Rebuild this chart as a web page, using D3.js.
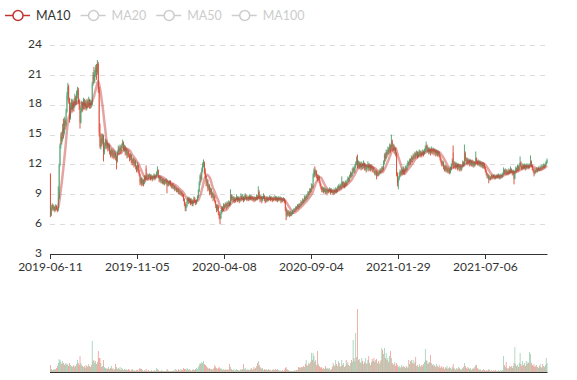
<!DOCTYPE html>
<html>
<head>
<meta charset="utf-8">
<script src="https://cdn.jsdelivr.net/npm/d3@7/dist/d3.min.js"></script>
<style>
  body { margin: 0; background: #fff; }
  svg { display: block; font-family: Lato, "Noto Sans", sans-serif; }
</style>
</head>
<body>
<div id="chart"></div>
<script>
// legend entries (only MA10 is switched on)
const legendNames = ['MA10', 'MA20', 'MA50', 'MA100'];
const legendActive = [true, false, false, false];

// category labels shown on the x axis and the category they sit on
const tickLabels = ['2019-06-11', '2019-11-05', '2020-04-08', '2020-09-04', '2021-01-29', '2021-07-06'];
const tickIndex = [0, 100, 200, 300, 400, 500];
const priceTicks = [3, 6, 9, 12, 15, 18, 21, 24];

// daily candles: [open, close, low, high]
const candles = [
  [11.0,6.9,6.7,11.1],[6.9,7.6,6.8,7.9],[7.6,7.9,7.4,8.1],[7.9,7.5,7.3,8.0],[7.5,7.7,7.4,7.9],
  [7.7,7.4,7.2,7.8],[7.4,7.8,7.3,8.0],[7.8,7.6,7.4,7.9],[7.6,7.4,7.2,7.7],[7.4,8.6,7.3,9.8],
  [8.6,11.9,8.5,12.1],[12.0,13.9,11.8,14.1],[13.9,14.8,13.6,15.2],[14.8,14.5,14.0,15.3],[14.5,15.6,14.3,16.1],
  [15.6,15.2,14.6,16.6],[15.2,16.4,15.0,16.8],[16.4,16.0,15.5,16.6],[16.0,17.3,15.8,17.6],[17.3,18.9,17.2,19.3],
  [18.9,19.8,18.4,20.2],[19.8,18.6,18.1,20.0],[18.6,16.6,16.2,18.7],[16.6,17.9,16.5,18.2],[17.9,18.3,17.5,18.6],
  [18.3,17.6,17.2,18.5],[17.6,18.2,17.4,18.6],[18.2,17.8,17.3,18.4],[17.8,18.7,17.7,19.1],[18.7,18.3,17.9,18.9],
  [18.3,19.0,18.0,19.4],[19.0,19.5,18.6,19.8],[19.5,18.4,18.1,19.7],[18.4,17.9,17.5,18.6],[17.9,16.2,15.6,18.0],
  [16.2,17.4,16.1,17.7],[17.4,18.1,17.2,18.4],[18.1,17.6,17.3,18.3],[17.6,18.4,17.5,18.7],[18.4,17.9,17.5,18.6],
  [17.9,18.2,17.6,18.5],[18.2,17.7,17.4,18.4],[17.7,18.3,17.5,18.6],[18.3,18.0,17.7,18.5],[18.0,18.5,17.8,18.8],
  [18.5,17.9,17.6,18.6],[17.9,18.2,17.6,18.5],[18.2,18.0,17.7,18.4],[18.0,20.1,17.9,20.3],[20.1,21.0,19.9,21.3],
  [21.0,20.4,20.1,21.8],[20.4,21.2,20.2,21.5],[21.2,21.7,20.8,22.0],[21.7,21.3,20.5,22.1],[21.3,22.1,21.0,22.5],
  [22.1,19.5,19.2,22.3],[19.5,15.2,14.8,19.8],[15.2,13.8,13.6,16.1],[13.8,14.6,13.5,15.0],[14.6,14.2,13.8,15.1],
  [14.2,14.9,14.0,15.1],[14.9,13.2,12.3,15.0],[13.2,13.9,13.0,14.2],[13.9,14.3,13.6,14.6],[14.3,13.8,13.5,14.5],
  [13.8,14.1,13.6,14.4],[14.1,13.6,13.3,14.2],[13.6,13.9,13.4,14.1],[13.9,13.3,13.0,14.0],[13.3,13.0,12.7,13.5],
  [13.0,13.4,12.8,13.6],[13.4,12.9,12.6,13.5],[12.9,13.2,12.7,13.5],[13.2,12.7,12.5,13.3],[12.7,13.1,12.6,13.4],
  [13.1,12.8,12.4,13.2],[12.8,12.3,11.5,12.9],[12.3,13.2,12.2,13.4],[13.2,13.6,13.0,13.9],[13.6,13.3,13.0,13.8],
  [13.3,13.7,13.1,14.0],[13.7,13.4,13.1,13.9],[13.4,13.9,13.3,14.1],[13.9,14.2,13.6,14.5],[14.2,13.6,13.4,14.3],
  [13.6,13.8,13.3,14.0],[13.8,13.2,12.9,13.9],[13.2,13.5,13.0,13.7],[13.5,12.9,12.6,13.6],[12.9,13.3,12.7,13.5],
  [13.3,13.0,12.7,13.4],[13.0,12.6,12.3,13.1],[12.6,12.9,12.4,13.1],[12.9,12.5,12.1,13.0],[12.5,12.2,11.9,12.6],
  [12.2,12.5,12.0,12.7],[12.5,12.0,11.7,12.6],[12.0,12.3,11.8,12.5],[12.3,11.8,11.5,12.4],[11.8,11.5,11.2,11.9],
  [11.5,11.9,11.3,12.2],[11.9,11.4,11.1,12.0],[11.4,11.0,10.8,11.5],[11.0,10.2,9.9,11.1],[10.2,10.6,10.0,10.8],
  [10.6,10.0,9.8,10.7],[10.0,10.4,9.9,10.6],[10.4,10.1,9.8,10.5],[10.1,10.7,10.0,10.9],[10.7,10.4,10.2,10.9],
  [11.6,10.8,10.5,11.9],[10.8,10.6,10.4,11.0],[10.6,10.9,10.5,11.1],[10.9,10.7,10.5,11.0],[10.7,10.9,10.6,11.1],
  [10.9,10.6,10.4,11.0],[10.6,10.8,10.5,11.0],[10.8,10.5,10.3,10.9],[10.5,10.7,10.4,10.9],[10.7,10.9,10.6,11.1],
  [10.9,10.6,10.4,11.0],[10.6,10.8,10.5,11.0],[10.8,11.1,10.7,11.3],[11.1,11.4,10.9,11.8],[11.4,10.8,10.6,11.5],
  [10.8,10.5,10.2,10.9],[10.5,10.7,10.3,10.9],[10.7,10.3,10.1,10.8],[10.3,10.5,10.1,10.7],[10.5,10.2,10.0,10.6],
  [10.2,10.4,10.0,10.6],[10.4,10.1,9.9,10.5],[10.1,10.3,10.0,10.5],[10.3,10.4,10.1,10.6],[10.4,9.9,9.1,10.5],
  [9.9,10.2,9.8,10.4],[10.2,10.0,9.8,10.3],[10.0,10.3,9.9,10.4],[10.3,10.0,9.8,10.4],[10.0,9.8,9.6,10.1],
  [9.8,10.0,9.6,10.1],[10.0,9.7,9.5,10.1],[9.7,9.8,9.5,9.9],[9.8,9.5,9.3,9.9],[9.5,9.6,9.4,9.8],
  [9.6,9.4,9.2,9.7],[9.4,9.5,9.2,9.6],[9.5,9.2,9.0,9.6],[9.2,9.3,9.0,9.5],[9.3,9.1,8.9,9.4],
  [9.1,9.2,8.9,9.3],[9.2,9.0,8.8,9.3],[9.0,8.9,8.7,9.1],[8.9,8.5,8.3,9.0],[8.5,8.0,7.8,8.6],
  [8.0,7.6,7.3,8.2],[7.6,7.8,7.3,8.0],[7.8,8.3,7.7,8.5],[8.3,8.6,8.1,8.8],[8.6,8.3,8.0,8.7],
  [8.3,8.5,8.1,8.7],[8.5,8.1,7.9,8.6],[8.1,8.4,8.0,8.6],[8.4,8.0,7.8,8.5],[8.0,8.2,7.8,8.4],
  [8.2,8.6,8.1,8.8],[8.6,8.3,8.1,8.7],[8.3,8.1,7.9,8.4],[8.1,8.4,8.0,8.5],[8.4,8.7,8.3,8.9],
  [8.7,9.3,8.6,9.5],[9.3,10.1,9.2,10.3],[10.1,10.8,9.9,11.0],[10.8,10.5,10.2,11.2],[10.5,11.4,10.4,11.7],
  [11.4,12.0,11.2,12.2],[12.0,12.2,11.7,12.5],[12.2,11.3,11.0,12.3],[11.3,10.8,10.6,11.6],[10.8,10.1,9.8,10.9],
  [10.1,10.4,9.8,10.6],[10.4,9.6,9.3,10.5],[9.6,9.9,9.4,10.1],[9.9,9.2,8.9,10.0],[9.2,9.5,9.0,9.7],
  [9.5,8.9,8.6,9.6],[8.9,9.1,8.7,9.3],[9.1,8.6,8.3,9.2],[8.6,8.8,8.4,9.0],[8.8,8.3,8.1,8.9],
  [8.3,7.9,7.6,8.4],[7.9,7.5,7.2,8.0],[7.5,7.8,7.3,8.0],[7.8,7.2,6.9,7.9],[7.2,6.8,6.5,7.3],
  [6.8,6.6,6.0,7.0],[6.6,7.2,6.5,7.4],[7.2,7.6,7.0,7.8],[7.6,7.4,7.2,7.8],[7.4,7.9,7.3,8.1],
  [7.9,7.7,7.5,8.0],[7.7,8.0,7.6,8.2],[8.0,7.8,7.5,8.1],[7.8,8.1,7.6,8.3],[8.1,7.9,7.7,8.2],
  [7.9,8.2,7.8,8.4],[8.2,8.0,7.8,8.3],[8.0,8.9,7.9,9.5],[8.9,8.5,8.3,9.0],[8.5,8.7,8.4,8.9],
  [8.7,8.4,8.2,8.8],[8.4,8.6,8.3,8.8],[8.6,8.3,8.1,8.7],[8.3,8.5,8.2,8.7],[8.5,8.7,8.4,9.0],
  [8.7,8.4,8.2,8.8],[8.4,8.6,8.3,8.8],[8.6,8.3,8.1,8.7],[8.3,8.6,8.2,8.8],[8.6,8.8,8.5,9.1],
  [8.8,8.5,8.3,8.9],[8.5,8.7,8.4,9.0],[8.7,8.4,8.2,8.8],[8.4,8.6,8.3,8.9],[8.6,8.9,8.5,9.1],
  [8.9,8.6,8.4,9.0],[8.6,8.5,8.3,8.7],[8.5,8.7,8.4,8.9],[8.7,8.5,8.3,8.8],[8.5,8.8,8.4,9.0],
  [8.8,8.6,8.4,8.9],[8.6,8.7,8.4,8.9],[8.7,8.5,8.3,8.8],[8.5,8.6,8.4,8.8],[8.6,8.4,8.2,8.7],
  [8.4,8.6,8.3,8.8],[8.6,8.5,8.3,8.7],[8.5,8.8,8.4,9.0],[8.8,8.6,8.4,8.9],[8.6,9.2,8.5,9.8],
  [9.2,8.8,8.5,9.4],[8.8,8.5,8.2,8.9],[8.5,8.7,8.3,8.9],[8.7,8.4,8.1,8.8],[8.4,8.6,8.3,8.8],
  [8.6,8.8,8.5,9.1],[8.8,8.5,8.3,8.9],[8.5,8.3,8.1,8.6],[8.3,8.6,8.2,8.8],[8.6,8.4,8.2,8.7],
  [8.4,8.6,8.3,8.8],[8.6,8.5,8.3,8.7],[8.5,8.7,8.4,8.9],[8.7,8.5,8.3,8.8],[8.5,8.6,8.4,8.8],
  [8.6,8.4,8.2,8.7],[8.4,8.6,8.3,8.8],[8.6,8.5,8.3,8.7],[8.5,8.7,8.4,8.9],[8.7,8.5,8.3,8.8],
  [8.5,8.6,8.3,8.8],[8.6,8.4,8.2,8.7],[8.4,8.6,8.3,8.8],[8.6,8.5,8.3,8.7],[8.5,8.6,8.4,8.8],
  [8.6,8.3,8.1,8.7],[8.3,8.5,8.2,8.7],[8.5,8.4,8.2,8.6],[8.4,8.5,8.3,8.7],[8.5,8.3,8.1,8.6],
  [8.3,7.6,7.3,8.4],[7.6,6.9,6.4,7.7],[6.9,7.3,6.7,7.5],[7.3,7.0,6.8,7.4],[7.0,7.2,6.8,7.4],
  [7.2,6.9,6.7,7.3],[6.9,7.1,6.8,7.3],[7.1,7.0,6.8,7.2],[7.0,7.2,6.9,7.4],[7.2,7.3,7.0,7.5],
  [7.3,7.5,7.2,7.6],[7.5,7.4,7.2,7.6],[7.4,7.7,7.3,7.8],[7.7,7.6,7.4,7.8],[7.6,7.9,7.5,8.0],
  [7.9,7.7,7.5,8.0],[7.7,8.0,7.6,8.1],[8.0,7.9,7.7,8.1],[7.9,8.2,7.8,8.4],[8.2,8.1,7.9,8.3],
  [8.1,8.4,8.0,8.6],[8.4,8.3,8.1,8.5],[8.3,8.7,8.2,8.9],[8.7,8.5,8.3,8.8],[8.5,8.8,8.4,9.0],
  [8.8,8.7,8.5,9.0],[8.7,9.1,8.6,9.3],[9.1,9.0,8.8,9.3],[9.0,9.4,8.9,9.6],[9.4,9.3,9.1,9.6],
  [9.3,9.8,9.2,10.1],[9.8,9.7,9.5,10.0],[9.7,10.9,9.6,11.1],[10.9,11.4,10.7,11.6],[11.4,11.0,10.7,11.8],
  [11.0,11.3,10.8,11.5],[11.3,10.9,10.6,11.4],[10.9,10.6,10.3,11.0],[10.6,10.8,10.4,11.0],[10.8,10.3,10.1,10.9],
  [10.3,10.0,9.8,10.4],[10.0,9.7,9.5,10.1],[9.7,9.4,9.2,9.8],[9.4,9.6,9.2,9.8],[9.6,9.3,9.1,9.7],
  [9.3,9.5,9.2,9.7],[9.5,9.2,9.0,9.6],[9.2,9.4,9.0,9.6],[9.4,9.2,8.9,9.5],[9.2,9.4,9.1,9.6],
  [9.4,9.3,9.1,9.5],[9.3,9.5,9.2,9.7],[9.5,9.2,9.0,9.6],[9.2,9.4,9.1,9.6],[9.4,9.3,9.1,9.5],
  [9.3,9.1,8.9,9.4],[9.1,9.4,9.0,9.6],[9.4,9.2,9.0,9.5],[9.2,9.5,9.1,9.7],[9.5,9.3,9.1,9.6],
  [9.3,9.6,9.2,9.8],[9.6,9.8,9.4,10.0],[9.8,9.6,9.4,9.9],[9.6,9.9,9.5,10.1],[9.9,9.7,9.5,10.0],
  [9.7,10.2,9.6,10.8],[10.2,9.9,9.7,10.3],[9.9,10.1,9.7,10.3],[10.1,9.8,9.6,10.2],[9.8,10.2,9.7,10.4],
  [10.2,10.0,9.8,10.3],[10.0,10.3,9.9,10.5],[10.3,10.6,10.2,10.8],[10.6,10.4,10.2,10.7],[10.4,10.8,10.3,11.0],
  [10.8,11.1,10.6,11.3],[11.1,10.9,10.7,11.2],[10.9,11.3,10.8,11.6],[11.3,11.6,11.1,11.8],[11.6,11.4,11.1,11.7],
  [11.4,11.8,11.2,12.0],[11.8,12.1,11.6,12.3],[12.1,12.5,11.9,12.8],[12.5,11.9,11.6,13.0],[11.9,12.2,11.7,12.4],
  [12.2,11.8,11.5,12.3],[11.8,12.1,11.6,12.3],[12.1,11.7,11.4,12.2],[11.7,12.0,11.5,12.3],[12.0,11.8,11.5,12.1],
  [11.8,12.1,11.6,12.4],[12.1,11.7,11.4,12.2],[11.7,11.9,11.4,12.1],[11.9,11.5,11.2,12.0],[11.5,11.8,11.3,12.0],
  [11.8,12.0,11.6,12.3],[12.0,11.6,11.3,12.1],[11.6,11.9,11.4,12.1],[11.9,11.6,11.3,12.0],[11.6,11.8,11.4,12.0],
  [11.8,11.5,11.2,11.9],[11.5,11.6,11.3,11.8],[11.6,11.3,11.1,11.7],[11.3,11.1,10.9,11.4],[11.1,11.3,10.9,11.5],
  [11.3,10.9,10.5,11.4],[10.9,11.1,10.8,11.3],[11.1,11.0,10.8,11.2],[11.0,11.2,10.9,11.4],[11.2,11.4,11.0,11.6],
  [11.4,11.3,11.1,11.6],[11.3,11.6,11.2,11.8],[11.6,11.5,11.3,11.8],[11.5,12.2,11.4,12.4],[12.2,12.9,12.0,13.1],
  [12.9,12.6,12.3,13.2],[12.6,13.2,12.5,13.5],[13.2,13.0,12.7,13.4],[13.0,13.5,12.9,13.8],[13.5,13.3,13.0,13.7],
  [13.3,13.8,13.1,14.1],[13.8,13.6,13.2,14.0],[13.6,14.3,13.4,15.0],[14.3,13.7,13.3,14.5],[13.7,13.9,13.4,14.1],
  [13.9,13.4,13.1,14.0],[13.4,13.6,13.0,13.8],[13.6,13.1,12.8,13.7],[13.1,11.0,10.8,13.2],[11.0,10.2,9.8,11.2],
  [10.2,10.6,9.5,10.8],[10.6,10.9,10.4,11.2],[10.9,11.3,10.7,11.5],[11.3,11.0,10.8,11.4],[11.0,11.4,10.9,11.7],
  [11.4,11.2,10.9,11.5],[11.2,11.5,11.0,11.8],[11.5,11.3,11.0,11.6],[11.3,11.7,11.2,11.9],[11.7,11.5,11.3,11.8],
  [11.5,11.9,11.4,12.1],[11.9,12.2,11.7,12.4],[12.2,12.0,11.8,12.3],[12.0,12.4,11.9,12.6],[12.4,12.3,12.0,12.6],
  [12.3,12.7,12.2,12.9],[12.7,12.5,12.2,12.8],[12.5,12.9,12.4,13.1],[12.9,12.7,12.5,13.0],[12.7,13.1,12.6,13.3],
  [13.1,12.9,12.6,13.2],[12.9,13.2,12.8,13.4],[13.2,12.8,12.6,13.3],[12.8,13.1,12.7,13.3],[13.1,13.3,12.9,13.5],
  [13.3,12.9,12.7,13.4],[12.9,13.2,12.8,13.4],[13.2,13.0,12.7,13.3],[13.0,13.3,12.9,13.5],[13.3,13.1,12.8,13.4],
  [13.1,13.4,13.0,13.6],[13.4,13.6,13.2,13.9],[13.6,13.9,13.4,14.3],[13.9,13.4,13.2,14.0],[13.4,13.6,13.2,13.8],
  [13.6,13.3,13.0,13.7],[13.3,13.5,13.1,13.7],[13.5,13.2,12.9,13.6],[13.2,13.5,13.1,13.8],[13.5,13.3,13.0,13.6],
  [13.3,13.5,13.1,13.7],[13.5,13.2,12.9,13.6],[13.2,13.4,13.0,13.6],[13.4,13.1,12.8,13.5],[13.1,13.3,12.9,13.5],
  [13.3,13.0,12.8,13.4],[13.0,13.2,12.8,13.4],[13.2,12.9,12.7,13.3],[12.9,12.6,12.4,13.0],[12.6,12.3,12.1,12.7],
  [12.3,12.0,11.8,12.4],[12.0,12.2,11.8,12.4],[12.2,11.8,11.5,12.3],[11.8,11.5,11.3,11.9],[11.5,11.8,11.3,12.0],
  [11.8,11.4,11.2,11.9],[11.4,11.6,11.2,11.8],[11.6,11.3,11.1,11.7],[11.3,11.5,11.1,11.7],[11.5,11.2,11.0,11.6],
  [11.2,11.6,11.1,11.8],[11.6,11.9,11.4,12.1],[11.9,12.4,11.8,12.6],[13.2,12.2,11.6,13.9],[12.2,11.9,11.6,12.3],
  [11.9,12.1,11.7,12.3],[12.1,11.8,11.5,12.2],[11.8,12.0,11.6,12.2],[12.0,11.7,11.4,12.1],[11.7,11.9,11.5,12.1],
  [11.9,11.6,11.3,12.0],[11.6,11.8,11.4,12.0],[11.8,11.5,11.3,11.9],[11.5,11.8,11.4,12.0],[11.8,12.2,11.7,12.4],
  [12.2,12.0,11.8,12.3],[12.0,13.1,11.9,14.0],[13.1,12.6,12.3,13.3],[12.6,12.3,12.0,12.7],[12.3,12.5,12.0,12.7],
  [12.5,12.2,11.9,12.6],[12.2,12.4,12.0,12.6],[12.4,12.1,11.8,12.5],[12.1,12.3,11.9,12.5],[12.3,12.0,11.8,12.4],
  [12.0,12.2,11.8,12.4],[12.2,11.9,11.7,12.3],[11.9,12.1,11.7,12.3],[12.1,12.0,11.8,12.3],[12.0,12.6,11.9,13.3],
  [12.6,12.3,12.0,12.7],[12.3,12.1,11.9,12.4],[12.1,12.3,11.9,12.5],[12.3,12.0,11.8,12.4],[12.0,12.2,11.8,12.4],
  [12.2,11.9,11.7,12.3],[11.9,12.1,11.7,12.3],[12.1,11.8,11.6,12.2],[11.8,12.0,11.6,12.2],[12.0,11.7,11.5,12.1],
  [11.7,11.4,11.2,11.8],[11.4,11.1,10.9,11.5],[11.1,10.8,10.6,11.2],[10.8,10.9,10.6,11.1],[10.9,10.5,10.1,11.0],
  [10.5,10.7,10.4,10.9],[10.7,10.6,10.4,10.8],[10.6,10.8,10.5,11.0],[10.8,10.7,10.5,10.9],[10.7,10.9,10.6,11.0],
  [10.9,10.7,10.5,11.0],[10.7,10.8,10.5,11.0],[10.8,10.7,10.5,10.9],[10.7,10.9,10.6,11.0],[10.9,10.8,10.6,11.0],
  [10.8,10.9,10.6,11.1],[10.9,10.7,10.5,11.0],[10.7,10.8,10.5,11.0],[10.8,10.9,10.6,11.1],[10.9,10.8,10.6,11.0],
  [10.8,11.0,10.7,11.2],[11.0,11.4,10.9,11.7],[11.4,11.2,11.0,11.5],[11.2,11.4,11.0,11.6],[11.4,11.1,10.9,11.5],
  [11.1,11.3,11.0,11.5],[11.3,11.1,10.9,11.4],[11.1,11.4,11.0,11.6],[11.4,11.2,11.0,11.5],[11.2,11.5,11.1,11.8],
  [11.5,11.3,11.1,11.6],[11.3,11.1,10.9,11.4],[11.1,11.3,10.9,11.5],[11.3,10.6,10.0,11.4],[10.6,11.2,10.5,11.4],
  [11.2,11.6,11.1,11.8],[11.6,11.4,11.2,11.7],[11.4,11.8,11.3,12.0],[11.8,11.5,11.3,11.9],[11.5,11.8,11.4,12.1],
  [11.8,12.2,11.7,12.8],[12.2,11.8,11.6,12.3],[11.8,11.6,11.4,11.9],[11.6,11.9,11.5,12.1],[11.9,11.7,11.5,12.0],
  [11.7,11.9,11.5,12.1],[11.9,11.6,11.4,12.0],[11.6,11.9,11.5,12.1],[11.9,11.7,11.5,12.0],[11.7,11.9,11.6,12.1],
  [11.9,11.7,11.5,12.0],[11.7,11.9,11.6,12.1],[11.9,12.3,11.8,12.9],[12.3,11.9,11.7,12.4],[11.9,11.6,11.4,12.0],
  [11.6,11.4,11.2,11.7],[11.4,11.1,10.8,11.5],[11.1,11.4,11.0,11.6],[11.4,11.3,11.1,11.5],[11.3,11.5,11.2,11.7],
  [11.5,11.4,11.2,11.6],[11.4,11.6,11.3,11.8],[11.6,11.5,11.3,11.7],[11.5,11.7,11.4,11.9],[11.7,11.6,11.4,11.8],
  [11.6,11.8,11.5,12.0],[11.8,11.7,11.5,11.9],[11.7,11.9,11.6,12.1],[11.9,11.8,11.6,12.0],[11.8,12.0,11.7,12.2],
  [12.0,12.2,11.9,12.4],[12.2,12.4,12.1,12.6]
];

// daily volume (arbitrary units)
const volumes = [
  7,3,2,2,3,2,3,4,6,9,13,12,10,8,11,9,7,8,9,7,
  8,6,9,7,6,5,6,7,5,6,8,12,9,7,16,9,7,6,5,6,
  4,7,6,5,8,6,5,7,31,11,12,9,11,8,10,21,14,14,9,5,
  6,12,5,4,3,4,3,5,3,4,6,3,4,2,3,8,5,3,4,3,
  5,2,4,3,2,3,2,3,2,2,3,2,1,2,3,2,1,2,1,2,
  2,1,3,4,3,3,2,1,2,1,3,1,1,2,1,1,2,1,1,1,
  2,1,4,3,2,1,1,1,2,1,1,1,1,1,3,2,1,1,1,1,
  1,1,2,1,3,2,1,3,2,1,3,2,2,4,3,3,2,4,3,2,
  3,2,1,2,3,2,2,3,4,3,5,7,9,8,10,9,11,8,7,6,
  5,4,3,4,3,3,2,3,4,7,5,4,3,4,5,3,4,3,2,3,
  2,3,2,2,3,2,8,5,3,2,2,3,1,2,3,2,2,1,2,3,
  2,3,8,3,4,2,2,3,2,2,3,4,2,3,5,3,4,6,9,11,
  7,5,4,3,4,2,3,2,3,2,2,3,2,2,1,2,3,2,2,3,
  2,3,2,1,2,1,1,2,1,2,4,5,3,2,2,1,1,1,1,1,
  1,2,1,2,2,5,4,5,4,5,5,6,5,8,12,7,6,9,8,10,
  19,12,19,16,10,12,7,21,8,6,5,4,5,3,4,3,6,4,3,4,
  3,4,2,3,5,9,7,6,12,8,6,11,9,5,6,12,7,9,5,6,
  12,8,10,7,6,9,12,10,32,14,11,39,15,63,12,13,10,9,14,11,
  8,10,14,8,9,12,16,9,7,10,13,11,14,10,12,13,9,11,8,10,
  12,24,22,18,24,14,19,12,14,10,16,21,14,9,7,8,10,6,9,7,
  5,6,4,5,7,5,6,5,4,6,5,4,12,8,11,12,9,12,8,10,
  15,6,7,5,8,6,5,7,6,8,10,23,12,11,8,9,10,17,9,7,
  8,6,7,5,8,6,5,7,4,5,6,4,5,3,5,4,6,3,4,5,
  4,3,5,8,4,3,2,4,3,5,4,3,2,3,4,5,9,6,4,3,
  5,4,3,4,2,3,4,3,5,7,7,4,3,2,3,2,1,2,3,2,
  1,2,1,2,3,2,1,2,1,1,2,1,2,1,1,2,1,1,2,1,
  2,16,7,5,10,4,3,4,6,5,6,4,6,9,25,8,6,7,5,9,
  19,8,6,11,7,9,6,11,8,10,9,20,18,9,7,6,8,5,6,7,
  5,4,6,8,5,4,8,6,5,7,14,9
];

const upColor = '#47a06c';     // rising candle
const downColor = '#dd4632';   // falling candle
const maColor = '#c23531';

const width = 577, height = 380;
const left = 50, right = 547.5;
const priceTop = 45, priceBottom = 254;
const volTop = 300, volBottom = 372;

const svg = d3.select('#chart').append('svg')
  .attr('width', width)
  .attr('height', height);

const x = d3.scaleBand()
  .domain(d3.range(candles.length))
  .range([left, right])
  .paddingInner(0);

const y = d3.scaleLinear()
  .domain([3, 24])
  .range([priceBottom, priceTop]);

const yVol = d3.scaleLinear()
  .domain([0, 72])
  .range([volBottom, volTop]);

const cx = i => x(i) + x.bandwidth() / 2;
const crisp = v => Math.round(v) + 0.5;

// dashed split lines
svg.append('g')
  .selectAll('line')
  .data(priceTicks.filter(d => d > 3))
  .join('line')
  .attr('x1', left)
  .attr('x2', right)
  .attr('y1', d => crisp(y(d)))
  .attr('y2', d => crisp(y(d)))
  .attr('stroke', '#dcdcdc')
  .attr('stroke-dasharray', '5,5');

// y axis labels (nudged up a little so "3" clears the date labels)
svg.append('g')
  .selectAll('text')
  .data(priceTicks)
  .join('text')
  .attr('x', left - 8)
  .attr('y', d => y(d) - 1.5)
  .attr('dy', '0.35em')
  .attr('text-anchor', 'end')
  .attr('font-size', 12)
  .attr('fill', '#333')
  .text(d => d);

// candles: wick + thin body
const cg = svg.append('g');
candles.forEach((d, i) => {
  const [o, c, lo, hi] = d;
  const col = c >= o ? upColor : downColor;
  cg.append('line')
    .attr('x1', cx(i)).attr('x2', cx(i))
    .attr('y1', y(hi)).attr('y2', y(lo))
    .attr('stroke', col)
    .attr('stroke-width', 0.9);
  const bw = x.bandwidth() * 0.7;
  cg.append('rect')
    .attr('x', cx(i) - bw / 2)
    .attr('width', bw)
    .attr('y', y(Math.max(o, c)))
    .attr('height', Math.max(0.5, Math.abs(y(o) - y(c))))
    .attr('fill', col);
});

// MA10 from closes
const ma10 = [];
candles.forEach((d, i) => {
  if (i < 9) return;
  const avg = d3.mean(candles.slice(i - 9, i + 1), e => e[1]);
  ma10.push({ i, v: avg });
});

svg.append('path')
  .datum(ma10)
  .attr('fill', 'none')
  .attr('stroke', maColor)
  .attr('stroke-opacity', 0.45)
  .attr('stroke-width', 2.5)
  .attr('d', d3.line().x(d => cx(d.i)).y(d => y(d.v)).curve(d3.curveMonotoneX));

// x axis for the price grid
svg.append('line')
  .attr('x1', left).attr('x2', right)
  .attr('y1', priceBottom + 0.5).attr('y2', priceBottom + 0.5)
  .attr('stroke', '#333');

const xt = svg.append('g');
tickIndex.forEach((idx, k) => {
  const tx = crisp(x(idx));
  xt.append('line')
    .attr('x1', tx).attr('x2', tx)
    .attr('y1', priceBottom).attr('y2', priceBottom + 5)
    .attr('stroke', '#333');
  xt.append('text')
    .attr('x', cx(idx))
    .attr('y', priceBottom + 13)
    .attr('dy', '0.35em')
    .attr('text-anchor', 'middle')
    .attr('font-size', 12)
    .attr('fill', '#333')
    .text(tickLabels[k]);
});

// volume bars
svg.append('g')
  .selectAll('rect')
  .data(volumes)
  .join('rect')
  .attr('x', (d, i) => x(i) + x.bandwidth() * 0.1)
  .attr('width', x.bandwidth() * 0.8)
  .attr('y', d => yVol(d))
  .attr('height', d => volBottom - yVol(d))
  .attr('fill', (d, i) => candles[i][1] >= candles[i][0] ? upColor : downColor)
  .attr('fill-opacity', 0.6);

svg.append('line')
  .attr('x1', left).attr('x2', right)
  .attr('y1', volBottom + 0.5).attr('y2', volBottom + 0.5)
  .attr('stroke', '#333');

// legend
const lg = svg.append('g');
let lx = 5;
legendNames.forEach((name, k) => {
  const col = legendActive[k] ? maColor : '#ccc';
  lg.append('line')
    .attr('x1', lx).attr('x2', lx + 25)
    .attr('y1', 15.5).attr('y2', 15.5)
    .attr('stroke', col)
    .attr('stroke-width', 1.5);
  lg.append('circle')
    .attr('cx', lx + 13).attr('cy', 15.5)
    .attr('r', 5)
    .attr('fill', '#fff')
    .attr('stroke', col)
    .attr('stroke-width', 1.5);
  const t = lg.append('text')
    .attr('x', lx + 31)
    .attr('y', 15.5)
    .attr('dy', '0.35em')
    .attr('font-size', 12.5)
    .attr('fill', legendActive[k] ? '#333' : '#ccc')
    .text(name);
  lx += 31 + t.node().getComputedTextLength() + 10;
});
</script>
</body>
</html>
